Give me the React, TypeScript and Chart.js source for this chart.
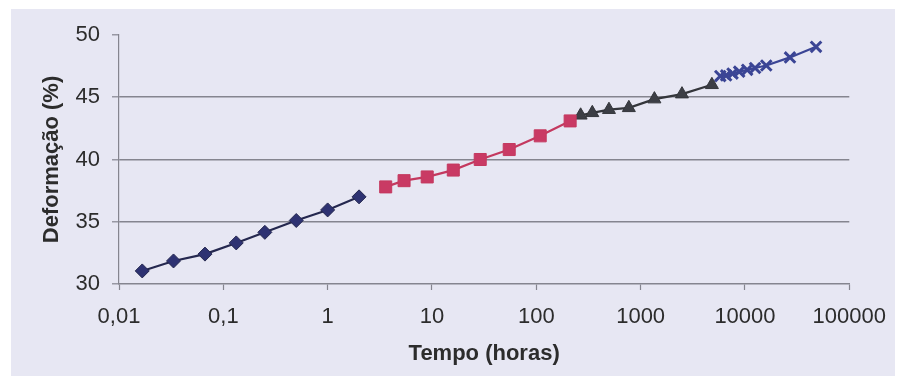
import React, { useEffect, useRef } from "react";
import { Chart, registerables } from "chart.js";

Chart.register(...registerables);

// Creep test: strain (%) versus time (hours), four measurement campaigns
const timeShort = [0.0167, 0.0333, 0.0667, 0.133, 0.25, 0.5, 1, 2];
const strainShort = [31.05, 31.85, 32.4, 33.3, 34.15, 35.1, 35.95, 37.0];

const timeMid = [3.6, 5.4, 9, 16, 29, 55, 109, 211];
const strainMid = [37.8, 38.3, 38.6, 39.15, 40.0, 40.8, 41.9, 43.1];

const timeLong = [266, 344, 497, 771, 1355, 2490, 4820];
const strainLong = [43.55, 43.75, 44.0, 44.15, 44.85, 45.25, 46.0];

const timeVeryLong = [5800, 6600, 7600, 8800, 10500, 12500, 16000, 27000, 48000];
const strainVeryLong = [46.7, 46.75, 46.9, 47.05, 47.2, 47.35, 47.55, 48.2, 49.05];

const xTickValues = [0.01, 0.1, 1, 10, 100, 1000, 10000, 100000];
const xTickLabels = ["0,01", "0,1", "1", "10", "100", "1000", "10000", "100000"];
const yTickValues = [30, 35, 40, 45, 50];

const xTitle = "Tempo (horas)";
const yTitle = "Deformação (%)";

const FONT = "'Liberation Sans', Arial, sans-serif";
const TEXT = "#2c2c2c";
const GRID = "#85858f";
const BG = "#e7e7f3";

const pts = (xs: number[], ys: number[]) => xs.map((x, i) => ({ x, y: ys[i] }));

const backgroundPlugin = {
  id: "panelBackground",
  beforeDraw(chart: any) {
    const { ctx, width, height } = chart;
    ctx.save();
    ctx.fillStyle = "#ffffff";
    ctx.fillRect(0, 0, width, height);
    ctx.fillStyle = BG;
    ctx.fillRect(11, 9, 884, height - 9);
    ctx.restore();
  },
};

const titlesPlugin = {
  id: "axisTitles",
  afterDraw(chart: any) {
    const { ctx, chartArea } = chart;
    ctx.save();
    ctx.fillStyle = TEXT;
    ctx.font = `bold 22px ${FONT}`;
    ctx.textAlign = "center";
    ctx.textBaseline = "middle";
    ctx.fillText(xTitle, (chartArea.left + chartArea.right) / 2, 354);
    ctx.translate(52, (chartArea.top + chartArea.bottom) / 2);
    ctx.rotate(-Math.PI / 2);
    ctx.fillText(yTitle, 0, 0);
    ctx.restore();
  },
};

export default function App() {
  const canvasRef = useRef<HTMLCanvasElement | null>(null);

  useEffect(() => {
    document.body.style.margin = "0";
    const canvas = canvasRef.current;
    if (!canvas) return;

    const chart = new Chart(canvas, {
      type: "line",
      data: {
        datasets: [
          {
            data: pts(timeShort, strainShort),
            borderColor: "#25284f",
            backgroundColor: "#2e3272",
            pointStyle: "rectRot",
            pointRadius: 7,
            pointBorderWidth: 1,
            borderWidth: 2.2,
          },
          {
            data: pts(timeMid, strainMid),
            borderColor: "#c4395f",
            backgroundColor: "#c93a64",
            pointStyle: "rect",
            pointRadius: 8.5,
            pointBorderWidth: 1,
            borderWidth: 2.2,
          },
          {
            data: pts(timeLong, strainLong),
            borderColor: "#34363b",
            backgroundColor: "#3c3e45",
            pointStyle: "triangle",
            pointRadius: 7.5,
            pointBorderWidth: 1,
            borderWidth: 2.2,
          },
          {
            data: pts(timeVeryLong, strainVeryLong),
            borderColor: "#3b4595",
            backgroundColor: "#3b4595",
            pointStyle: "crossRot",
            pointRadius: 7.5,
            pointBorderWidth: 3,
            borderWidth: 2.2,
          },
        ],
      },
      options: {
        animation: false,
        responsive: false,
        devicePixelRatio: 1,
        layout: { padding: { top: 35, right: 47, left: 0, bottom: 0 } },
        plugins: {
          legend: { display: false },
          tooltip: { enabled: false },
        },
        scales: {
          x: {
            type: "logarithmic",
            min: 0.01,
            max: 100000,
            afterBuildTicks: (scale: any) => {
              scale.ticks = xTickValues.map((v) => ({ value: v }));
            },
            afterFit: (scale: any) => {
              scale.height = 92;
            },
            ticks: {
              autoSkip: false,
              maxRotation: 0,
              padding: 14,
              color: TEXT,
              font: { family: FONT, size: 22 },
              callback: (_v: any, i: number) => xTickLabels[i],
            },
            grid: {
              drawOnChartArea: false,
              tickLength: 6,
              tickColor: GRID,
              tickWidth: 1.2,
            },
            border: { display: true, color: GRID, width: 1.5 },
          },
          y: {
            type: "linear",
            min: 30,
            max: 50,
            afterBuildTicks: (scale: any) => {
              scale.ticks = yTickValues.map((v) => ({ value: v }));
            },
            afterFit: (scale: any) => {
              scale.width = 119;
            },
            ticks: {
              padding: 12,
              color: TEXT,
              font: { family: FONT, size: 22 },
            },
            grid: {
              color: (ctx: any) =>
                ctx.tick && (ctx.tick.value === 50 || ctx.tick.value === 30) ? "rgba(0,0,0,0)" : GRID,
              lineWidth: 1.6,
              tickLength: 7,
              tickColor: GRID,
              tickWidth: 1.2,
            },
            border: { display: true, color: GRID, width: 1.2 },
          },
        },
      },
      plugins: [backgroundPlugin, titlesPlugin],
    } as any);

    return () => chart.destroy();
  }, []);

  return (
    <div style={{ width: 900, height: 376 }}>
      <canvas ref={canvasRef} width={900} height={376} style={{ display: "block" }} />
    </div>
  );
}
